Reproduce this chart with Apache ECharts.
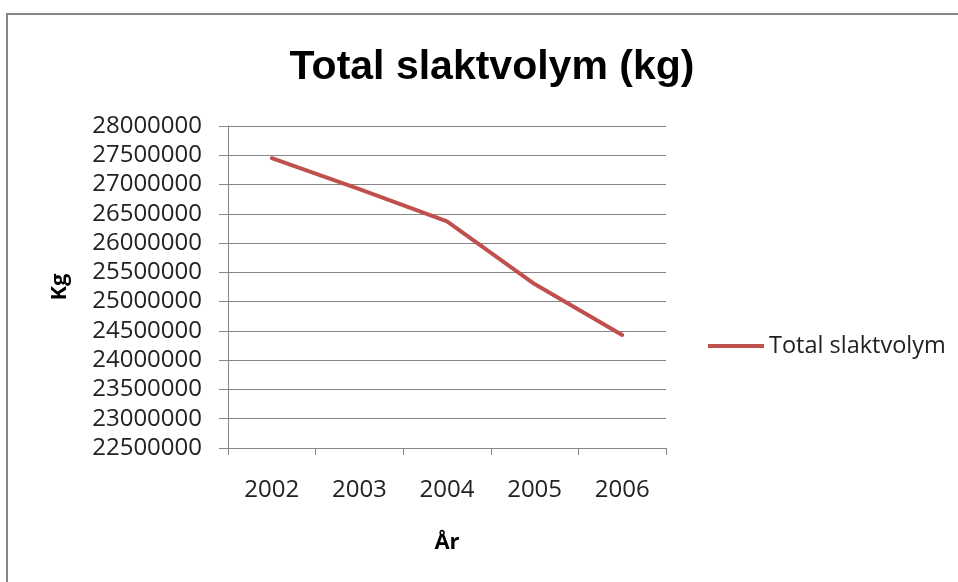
<!DOCTYPE html>
<html>
<head>
<meta charset="utf-8">
<title>Total slaktvolym (kg)</title>
<script src="https://cdn.jsdelivr.net/npm/echarts@6/dist/echarts.min.js"></script>
<style>
  html, body { margin: 0; padding: 0; background: #fff; }
  #chart { width: 958px; height: 582px; }
</style>
</head>
<body>
<div id="chart"></div>
<script>
// data
const years = ['2002', '2003', '2004', '2005', '2006'];
const slaktvolym = [27450000, 26920000, 26370000, 25300000, 24430000];
const yMin = 22500000;
const yMax = 28000000;
const yStep = 500000;

const gridGray = '#868686';
const labelFont = { fontFamily: 'Open Sans', fontSize: 24, color: '#222' };

const chart = echarts.init(document.getElementById('chart'));

const option = {
    backgroundColor: '#fff',
    animation: false,
    title: {
        text: 'Total slaktvolym (kg)',
        left: 487,
        textAlign: 'center',
        top: 42,
        textStyle: {
            fontFamily: '"Liberation Sans", sans-serif',
            fontWeight: 'bold',
            fontSize: 41,
            color: '#000'
        }
    },
    graphic: [
        {
            type: 'polyline',
            shape: { points: [[7, 600], [7, 14], [960, 14]] },
            style: { stroke: gridGray, lineWidth: 2, fill: null }
        }
    ],
    legend: {
        left: 703,
        top: 329,
        itemWidth: 56,
        itemHeight: 4,
        itemGap: 6,
        icon: 'rect',
        textStyle: Object.assign({}, labelFont, { fontSize: 23.5 }),
        data: ['Total slaktvolym']
    },
    grid: {
        left: 228,
        right: 292,
        top: 126,
        bottom: 134
    },
    xAxis: {
        type: 'category',
        data: years,
        boundaryGap: true,
        name: 'År',
        nameLocation: 'middle',
        nameGap: 84,
        nameTextStyle: { fontFamily: 'Open Sans', fontWeight: 'bold', fontSize: 22, color: '#000' },
        axisLine: { lineStyle: { color: gridGray, width: 1 } },
        axisTick: { show: true, length: 7, lineStyle: { color: gridGray } },
        axisLabel: Object.assign({ margin: 30 }, labelFont)
    },
    yAxis: {
        type: 'value',
        min: yMin,
        max: yMax,
        interval: yStep,
        name: 'Kg',
        nameLocation: 'middle',
        nameGap: 157,
        nameRotate: 90,
        nameTextStyle: { fontFamily: 'Open Sans', fontWeight: 'bold', fontSize: 22, color: '#000' },
        axisLine: { show: true, lineStyle: { color: gridGray, width: 1 } },
        axisTick: { show: true, length: 9, lineStyle: { color: gridGray } },
        axisLabel: Object.assign({
            margin: 26,
            formatter: function (v) { return String(v); }
        }, labelFont),
        splitLine: { lineStyle: { color: gridGray, width: 1 } }
    },
    series: [
        {
            name: 'Total slaktvolym',
            type: 'line',
            data: slaktvolym,
            symbol: 'none',
            itemStyle: { color: '#C0504D' },
            lineStyle: { color: '#C0504D', width: 4, cap: 'round', join: 'round' }
        }
    ]
};

chart.setOption(option);

window.addEventListener('resize', function () {
    chart.resize();
});
</script>
</body>
</html>
